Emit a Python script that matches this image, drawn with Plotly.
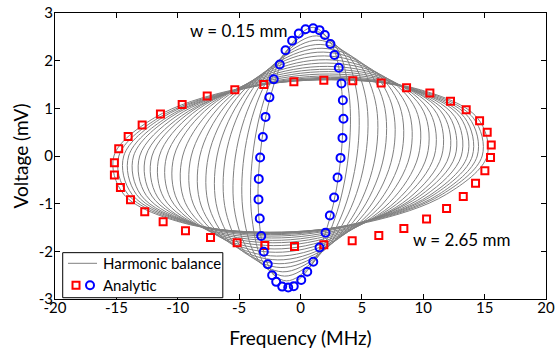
import plotly.graph_objects as go

# ---------------- data ----------------
# Harmonic-balance loops (grey): upper half of each loop, from its left end,
# over the top, to its right shoulder.  The loops are point-symmetric about
# the origin, so the lower half is the point reflection of the upper half.
gray_top_x = [
    [-3.30, -2.34, -0.76, 1.03, 2.54, 3.37],
    [-3.90, -2.80, -0.95, 1.15, 2.95, 3.95],
    [-4.60, -3.33, -1.17, 1.30, 3.43, 4.63],
    [-5.30, -3.87, -1.39, 1.45, 3.91, 5.32],
    [-6.10, -4.48, -1.66, 1.60, 4.44, 6.08],
    [-6.80, -5.01, -1.88, 1.75, 4.92, 6.76],
    [-7.50, -5.57, -2.15, 1.85, 5.35, 7.42],
    [-8.20, -6.13, -2.41, 1.95, 5.79, 8.08],
    [-8.90, -6.68, -2.68, 2.05, 6.23, 8.73],
    [-9.60, -7.24, -2.94, 2.15, 6.66, 9.39],
    [-10.30, -7.82, -3.25, 2.20, 7.06, 10.02],
    [-10.90, -8.31, -3.50, 2.25, 7.40, 10.56],
    [-11.50, -8.81, -3.76, 2.30, 7.74, 11.11],
    [-12.10, -9.30, -4.02, 2.35, 8.09, 11.65],
    [-12.60, -9.71, -4.22, 2.40, 8.38, 12.11],
    [-13.10, -10.14, -4.45, 2.42, 8.65, 12.56],
    [-13.60, -10.55, -4.68, 2.45, 8.92, 13.00],
    [-14.00, -10.89, -4.86, 2.47, 9.14, 13.36],
    [-14.40, -11.23, -5.05, 2.48, 9.35, 13.71],
    [-14.80, -11.57, -5.24, 2.50, 9.57, 14.07],
    [-15.20, -11.91, -5.44, 2.50, 9.77, 14.41],
]
gray_top_y = [
    [0, 1.35, 2.34, 2.70, 2.34, 1.35],
    [0, 1.31, 2.27, 2.62, 2.27, 1.31],
    [0, 1.26, 2.18, 2.52, 2.18, 1.26],
    [0, 1.22, 2.10, 2.43, 2.10, 1.22],
    [0, 1.17, 2.03, 2.34, 2.03, 1.17],
    [0, 1.13, 1.96, 2.26, 1.96, 1.13],
    [0, 1.09, 1.89, 2.18, 1.89, 1.09],
    [0, 1.05, 1.82, 2.10, 1.82, 1.05],
    [0, 1.01, 1.75, 2.02, 1.75, 1.01],
    [0, 0.98, 1.69, 1.95, 1.69, 0.98],
    [0, 0.94, 1.63, 1.88, 1.63, 0.94],
    [0, 0.91, 1.58, 1.82, 1.58, 0.91],
    [0, 0.89, 1.53, 1.77, 1.53, 0.89],
    [0, 0.86, 1.49, 1.72, 1.49, 0.86],
    [0, 0.84, 1.45, 1.68, 1.45, 0.84],
    [0, 0.83, 1.43, 1.65, 1.43, 0.83],
    [0, 0.82, 1.41, 1.63, 1.41, 0.82],
    [0, 0.81, 1.40, 1.62, 1.40, 0.81],
    [0, 0.81, 1.39, 1.61, 1.39, 0.81],
    [0, 0.80, 1.39, 1.60, 1.39, 0.80],
    [0, 0.80, 1.39, 1.60, 1.39, 0.80],
]

# Analytic, w = 0.15 mm (blue circles)
w015_freq = [-2.18, -1.69, -1.22, -0.68, -0.14, 0.41, 1.03, 1.55, 1.98, 2.44,
             2.77, 3.12, 3.34, 3.45, 3.50, 3.42, 3.26, 3.02, 2.74, 2.39,
             2.04, 1.55, 1.04, 0.55, 0.06, -0.55, -1.00, -1.49, -1.98, -2.31,
             -2.67, -2.99, -3.20, -3.32, -3.42, -3.40, -3.29, -3.07, -2.85, -2.53]
w015_volt = [1.61, 1.92, 2.22, 2.42, 2.57, 2.66, 2.68, 2.64, 2.54, 2.35,
             2.12, 1.85, 1.52, 1.17, 0.78, 0.38, -0.04, -0.45, -0.87, -1.25,
             -1.61, -1.92, -2.22, -2.43, -2.60, -2.73, -2.76, -2.74, -2.64, -2.50,
             -2.27, -2.01, -1.68, -1.31, -0.91, -0.48, -0.03, 0.40, 0.82, 1.23]

# Analytic, w = 2.65 mm (red squares)
w265_freq = [-15.16, -14.81, -14.04, -12.90, -11.41, -9.64, -7.60, -5.35, -2.99, -0.54,
             1.90, 4.26, 6.57, 8.64, 10.54, 12.22, 13.50, 14.59, 15.21, 15.54,
             15.48, 15.02, 14.26, 13.26, 11.90, 10.27, 8.42, 6.38, 4.21, 1.90,
             -0.49, -2.91, -5.16, -7.33, -9.37, -11.19, -12.69, -13.85, -14.67, -15.16]
w265_volt = [-0.14, 0.15, 0.41, 0.65, 0.88, 1.08, 1.26, 1.39, 1.50, 1.56,
             1.59, 1.58, 1.53, 1.43, 1.32, 1.15, 0.97, 0.74, 0.50, 0.23,
             -0.03, -0.31, -0.57, -0.85, -1.10, -1.32, -1.52, -1.67, -1.78, -1.86,
             -1.90, -1.88, -1.82, -1.71, -1.57, -1.38, -1.17, -0.92, -0.66, -0.40]

x_tickvals = [-20, -15, -10, -5, 0, 5, 10, 15, 20]
x_ticktext = ["-20", "-15", "-10", "-5", "0", "5", "10", "15", "20"]
y_tickvals = [-3, -2, -1, 0, 1, 2, 3]
y_ticktext = ["-3", "-2", "-1", "0", "1", "2", "3"]

label_narrow = "w = 0.15 mm"
label_wide = "w = 2.65 mm"

# ---------------- figure ----------------
FONT = "Lato"
GREY = "rgb(128,128,128)"
fig = go.Figure()

for xs, ys in zip(gray_top_x, gray_top_y):
    top = list(zip(xs, ys))
    ring = top + [(-x, -y) for x, y in top]
    ring = ring + [ring[0]]
    fig.add_trace(go.Scatter(
        x=[p[0] for p in ring], y=[p[1] for p in ring], mode="lines",
        line=dict(color=GREY, width=1, shape="spline", smoothing=1),
        name="Harmonic balance", showlegend=False, hoverinfo="skip"))

fig.add_trace(go.Scatter(
    x=w265_freq, y=w265_volt, mode="markers", name="Analytic (w = 2.65 mm)",
    marker=dict(symbol="square-open", size=7, color="#ff0000", line=dict(width=2)),
    showlegend=False))
fig.add_trace(go.Scatter(
    x=w015_freq, y=w015_volt, mode="markers", name="Analytic (w = 0.15 mm)",
    marker=dict(symbol="circle-open", size=8, color="#0000ff", line=dict(width=2)),
    showlegend=False))

fig.add_annotation(x=-5.09, y=2.64, xref="x", yref="y", text=label_narrow,
                   showarrow=False, font=dict(family=FONT, size=17, color="black"))
fig.add_annotation(x=13.1, y=-1.76, xref="x", yref="y", text=label_wide,
                   showarrow=False, font=dict(family=FONT, size=17, color="black"))

# legend box (drawn manually: the reference shows two symbols in one entry)
lx0, lx1, ly0, ly1 = 0.0157, 0.3418, 0.0045, 0.162
row1, row2 = 0.1248, 0.0479
fig.add_shape(type="rect", xref="paper", yref="paper", x0=lx0, x1=lx1, y0=ly0, y1=ly1,
              line=dict(color="black", width=1), fillcolor="white", layer="above")
fig.add_shape(type="line", xref="paper", yref="paper", x0=0.0265, x1=0.0856, y0=row1, y1=row1,
              line=dict(color=GREY, width=1), layer="above")
fig.add_shape(type="rect", xref="paper", yref="paper", xsizemode="pixel", ysizemode="pixel",
              xanchor=0.0428, yanchor=row2, x0=-3.5, x1=3.5, y0=-3.5, y1=3.5,
              line=dict(color="#ff0000", width=2), layer="above")
fig.add_shape(type="circle", xref="paper", yref="paper", xsizemode="pixel", ysizemode="pixel",
              xanchor=0.0713, yanchor=row2, x0=-4, x1=4, y0=-4, y1=4,
              line=dict(color="#0000ff", width=2), layer="above")
fig.add_annotation(x=0.0937, y=row1, xref="paper", yref="paper", text="Harmonic balance",
                   xanchor="left", yanchor="middle", showarrow=False,
                   font=dict(family=FONT, size=15, color="black"))
fig.add_annotation(x=0.0937, y=row2, xref="paper", yref="paper", text="Analytic",
                   xanchor="left", yanchor="middle", showarrow=False,
                   font=dict(family=FONT, size=15, color="black"))

axis_common = dict(showgrid=False, zeroline=False, showline=True, linecolor="black",
                   linewidth=1, mirror="ticks", ticks="inside", ticklen=5,
                   tickcolor="black", automargin=False, ticklabeloverflow="allow",
                   tickfont=dict(family=FONT, size=15, color="black"))
fig.update_xaxes(range=[-20, 20], tickmode="array", tickvals=x_tickvals, ticktext=x_ticktext,
                 ticklabelstandoff=-5,
                 title=dict(text="Frequency (MHz)", font=dict(family=FONT, size=19, color="black"),
                            standoff=18),
                 **axis_common)
fig.update_yaxes(range=[-3, 3], tickmode="array", tickvals=y_tickvals, ticktext=y_ticktext,
                 ticklabelstandoff=-2,
                 title=dict(text="Voltage (mV)", font=dict(family=FONT, size=19, color="black"),
                            standoff=5),
                 **axis_common)
fig.update_layout(width=555, height=349, margin=dict(l=55, r=9, t=13, b=50, autoexpand=False),
                  plot_bgcolor="white", paper_bgcolor="white", showlegend=False,
                  font=dict(family=FONT, color="black"))

# remove the default 8 px page margin so the figure sits at the window's corner
fig.write_html("out.html", config={"displayModeBar": False},
               post_script="document.body.style.margin='0';")
